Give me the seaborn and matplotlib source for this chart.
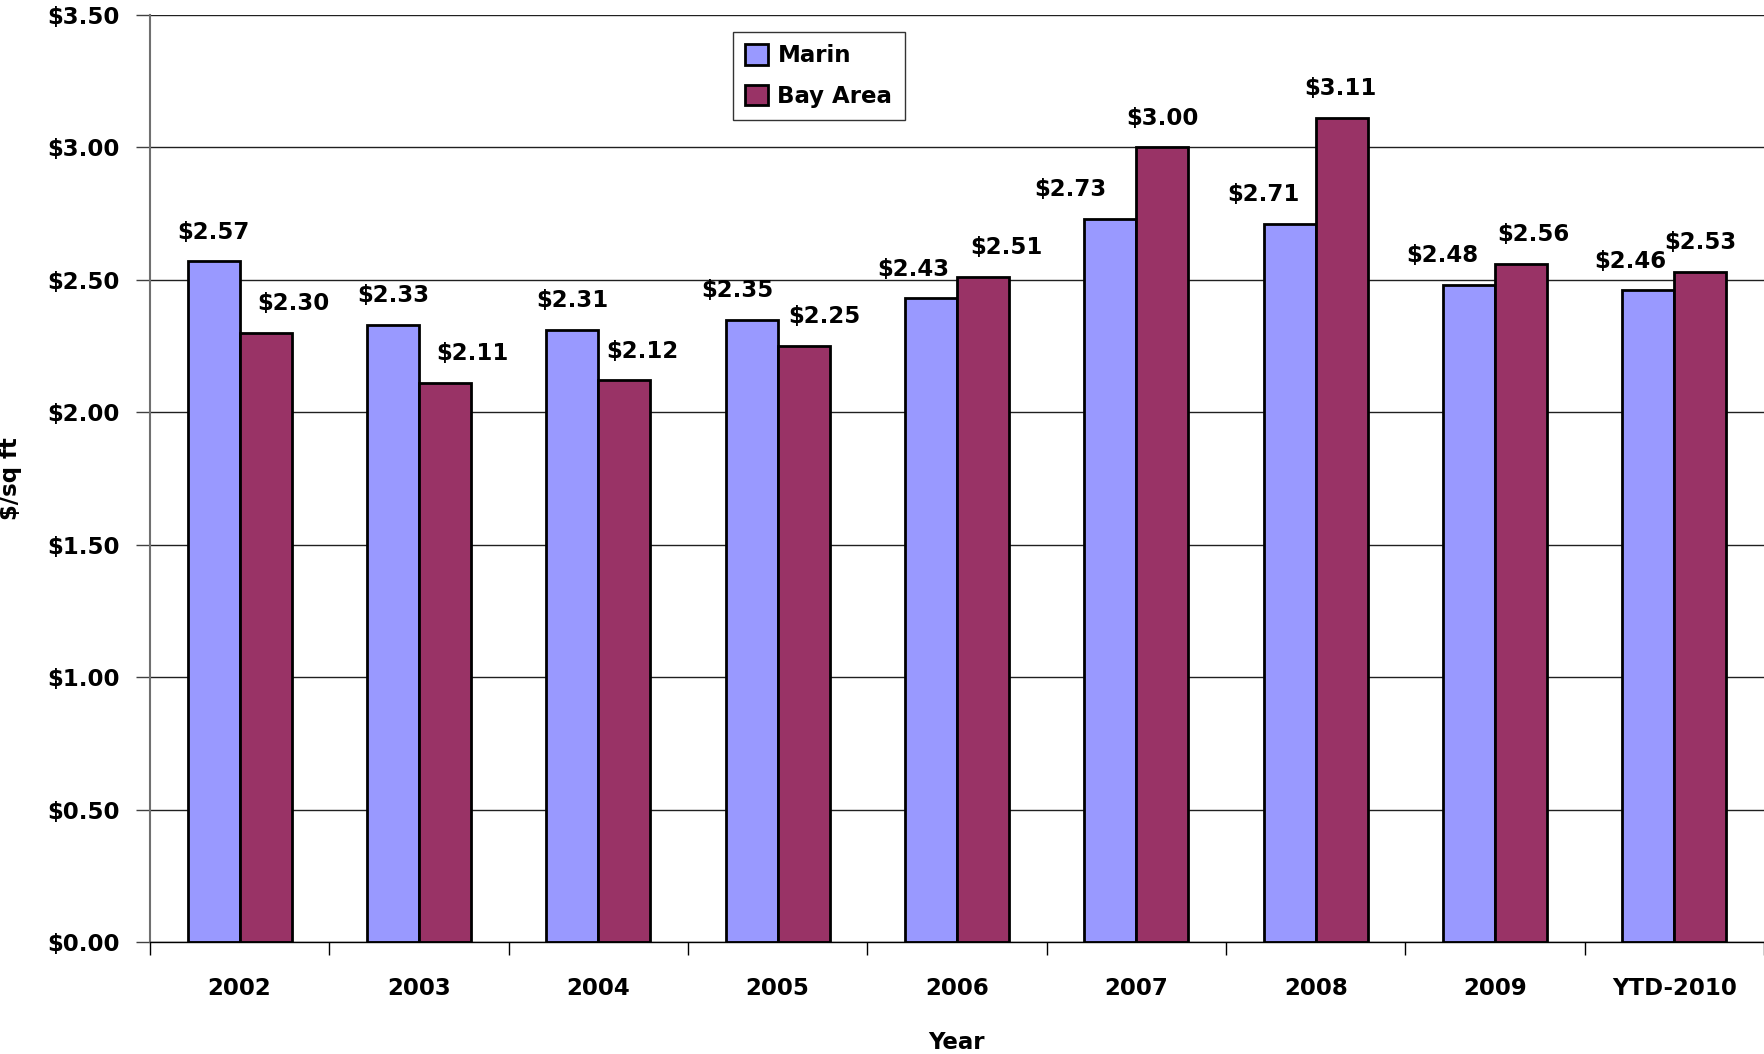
#!/usr/bin/env python3

import pandas as pd
import seaborn as sns
import matplotlib.pyplot as plt
from matplotlib.ticker import FuncFormatter

years = ['2002', '2003', '2004', '2005', '2006', '2007', '2008', '2009', 'YTD-2010']
marin = [2.57, 2.33, 2.31, 2.35, 2.43, 2.73, 2.71, 2.48, 2.46]
bay_area = [2.30, 2.11, 2.12, 2.25, 2.51, 3.00, 3.11, 2.56, 2.53]
regions = ['Marin', 'Bay Area']

# label nudges (points), Excel pushed some labels sideways to avoid overlap
marin_dx = [0, 0, 0, -10, -13, -29, -19, -19, -13]
bay_dx = [20, 20, 13, 15, 17, 0, -1, 9, 0]

df = pd.DataFrame({
	'Year': years * 2,
	'Value': marin + bay_area,
	'Region': [regions[0]] * len(years) + [regions[1]] * len(years),
})

sns.set_style('white')
plt.rcParams['font.family'] = ['DejaVu Sans']
plt.rcParams['font.weight'] = 'bold'
plt.rcParams['text.color'] = 'black'
plt.rcParams['axes.labelcolor'] = 'black'
plt.rcParams['xtick.color'] = 'black'
plt.rcParams['ytick.color'] = 'black'
fs = 16.5

fig = plt.figure(figsize=(17.64, 10.54), dpi=100)
ax = fig.add_axes([0.085, 0.106, 0.915, 0.880])

sns.barplot(data=df, x='Year', y='Value', hue='Region', order=years,
	hue_order=regions, palette=['#9999FF', '#993366'], width=0.58,
	edgecolor='black', linewidth=2, saturation=1, ax=ax)

for container, vals, dxs in zip(ax.containers, [marin, bay_area], [marin_dx, bay_dx]):
	for patch, v, dx in zip(container.patches, vals, dxs):
		ax.annotate('${:.2f}'.format(v),
			(patch.get_x() + patch.get_width() / 2, patch.get_height()),
			xytext=(dx, 21), textcoords='offset points',
			ha='center', va='center', fontsize=fs, fontweight='bold')

ax.set_ylim(0, 3.5)
ax.set_xlim(-0.5, len(years) - 0.5)
ax.set_yticks([i * 0.5 for i in range(8)])
ax.yaxis.set_major_formatter(FuncFormatter(lambda v, p: '${:.2f}'.format(v)))
ax.set_xticks([i - 0.5 for i in range(len(years) + 1)])
ax.set_xticklabels([])
ax.set_xticks(range(len(years)), minor=True)
ax.set_xticklabels(years, minor=True)
ax.tick_params(axis='x', which='major', direction='out', length=9, width=1, color='black', bottom=True)
ax.tick_params(axis='x', which='minor', length=0, pad=25, labelsize=fs)
ax.tick_params(axis='y', direction='out', length=10, width=1, color='#404040', left=True, pad=12, labelsize=fs)
for lab in ax.get_xticklabels(minor=True) + ax.get_yticklabels():
	lab.set_fontweight('bold')

ax.yaxis.grid(True, color='#202020', linewidth=1)
ax.set_axisbelow(True)
for side in ['top', 'right']:
	ax.spines[side].set_visible(False)
ax.spines['left'].set_color('#707070')
ax.spines['left'].set_linewidth(1.5)
ax.spines['bottom'].set_color('black')
ax.spines['bottom'].set_linewidth(1)

ax.set_xlabel('Year', fontsize=fs, fontweight='bold', labelpad=22)
ax.set_ylabel('$/sq ft', fontsize=fs, fontweight='bold', labelpad=18)

leg = ax.legend(loc='upper left', bbox_to_anchor=(0.354, 0.994), fancybox=False,
	frameon=True, edgecolor='black', fontsize=fs, handlelength=1.0,
	handleheight=1.0, borderpad=0.55, labelspacing=0.75, handletextpad=0.4)
leg.get_frame().set_linewidth(1)
for t in leg.get_texts():
	t.set_fontweight('bold')
for h in leg.legend_handles:
	h.set_edgecolor('black')
	h.set_linewidth(2)

fig.savefig('out.png', dpi=100)
